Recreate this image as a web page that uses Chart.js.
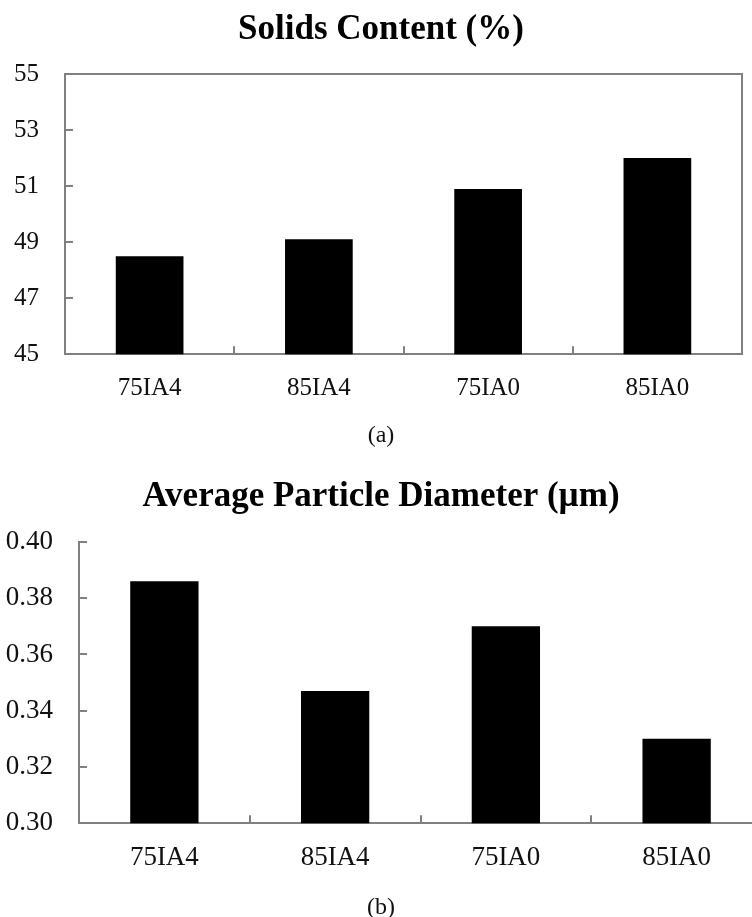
<!DOCTYPE html>
<html>
<head>
<meta charset="utf-8">
<script src="https://cdn.jsdelivr.net/npm/chart.js@4.4.1/dist/chart.umd.min.js"></script>
<style>
  html, body { margin: 0; padding: 0; background: #fff; overflow: hidden; }
  #clipA { position: absolute; left: 0; top: 0; width: 752px; height: 460px; overflow: hidden; }
  #wrapA { position: absolute; left: 0; top: 0; width: 762px; height: 460px; }
  #clipB { position: absolute; left: 0; top: 460px; width: 752px; height: 457px; overflow: hidden; }
  #wrapB { position: absolute; left: 0; top: 0; width: 770px; height: 470px; }
</style>
</head>
<body>
<div id="clipA"><div id="wrapA"><canvas id="chartA"></canvas></div></div>
<div id="clipB"><div id="wrapB"><canvas id="chartB"></canvas></div></div>
<script>
// ---- data ----
const categories = ['75IA4', '85IA4', '75IA0', '85IA0'];
const solidsContent = [48.5, 49.1, 50.9, 52.0];
const particleDiameter = [0.386, 0.347, 0.370, 0.330];
const solidsTicks = [45, 47, 49, 51, 53, 55];
const diameterTicks = [0.30, 0.32, 0.34, 0.36, 0.38, 0.40];
const titleA = 'Solids Content (%)';
const titleB = 'Average Particle Diameter (\u00B5m)';
const captionA = '(a)';
const captionB = '(b)';

const FONT = "'Liberation Serif', 'Times New Roman', serif";
const AXIS = '#808080';
const TEXT = '#111';

function makeChart(id, values, ticks, title, caption, cfg) {
  const yMin = ticks[0], yMax = ticks[ticks.length - 1];
  const scales = {
    x: {
      type: 'category',
      offset: true,
      grid: { display: true, offset: true, drawOnChartArea: false, drawTicks: true,
              tickLength: -8, color: AXIS, lineWidth: 2 },
      border: { display: true, color: AXIS, width: 2 },
      ticks: { color: TEXT, font: { family: FONT, size: cfg.tickSize }, padding: 27, maxRotation: 0 },
      afterFit: s => { s.height = 60; }
    },
    y: {
      type: 'linear',
      min: yMin, max: yMax,
      afterBuildTicks: s => { s.ticks = ticks.map(v => ({ value: v })); },
      grid: { display: true, drawOnChartArea: false, drawTicks: true,
              tickLength: -8, color: AXIS, lineWidth: 2 },
      border: { display: true, color: AXIS, width: 2 },
      ticks: { color: TEXT, font: { family: FONT, size: cfg.tickSize }, padding: 34,
               callback: v => v.toFixed(cfg.decimals) },
      afterFit: s => { s.width = cfg.yWidth; }
    }
  };
  if (cfg.box) {
    scales.x2 = {
      type: 'category', position: 'top', offset: true,
      grid: { display: false }, ticks: { display: false },
      border: { display: true, color: AXIS, width: 2 },
      afterFit: s => { s.height = 0; }
    };
    scales.y2 = {
      type: 'linear', position: 'right', min: yMin, max: yMax,
      grid: { display: false }, ticks: { display: false },
      border: { display: true, color: AXIS, width: 2 },
      afterFit: s => { s.width = cfg.y2Width; }
    };
  }
  return new Chart(document.getElementById(id), {
    type: 'bar',
    data: {
      labels: categories,
      datasets: [{
        data: values,
        backgroundColor: '#000',
        borderWidth: 0,
        categoryPercentage: 1.0,
        barPercentage: 0.4
      }]
    },
    options: {
      responsive: true,
      maintainAspectRatio: false,
      animation: false,
      layout: { padding: { left: 0, right: cfg.rightPad, top: 0, bottom: 0 } },
      plugins: {
        legend: { display: false },
        tooltip: { enabled: false },
        title: {
          display: true, text: title, color: '#000',
          font: { family: FONT, size: 35, weight: 'bold', lineHeight: 1.2 },
          padding: { top: cfg.titleTop, bottom: cfg.titleBottom }
        },
        subtitle: {
          display: true, position: 'bottom', text: caption, color: TEXT,
          font: { family: FONT, size: 24, weight: 'normal', lineHeight: 1.2 },
          padding: { top: cfg.capTop, bottom: cfg.capBottom }
        }
      },
      scales: scales
    }
  });
}

makeChart('chartA', solidsContent, solidsTicks, titleA, captionA,
  { tickSize: 25, decimals: 0, yWidth: 65, rightPad: 0, y2Width: 20, box: true,
    titleTop: 9, titleBottom: 23, capTop: 7, capBottom: 10 });
makeChart('chartB', particleDiameter, diameterTicks, titleB, captionB,
  { tickSize: 27, decimals: 2, yWidth: 79, rightPad: 8, box: false,
    titleTop: 16, titleBottom: 24, capTop: 10, capBottom: 8 });
</script>
</body>
</html>
